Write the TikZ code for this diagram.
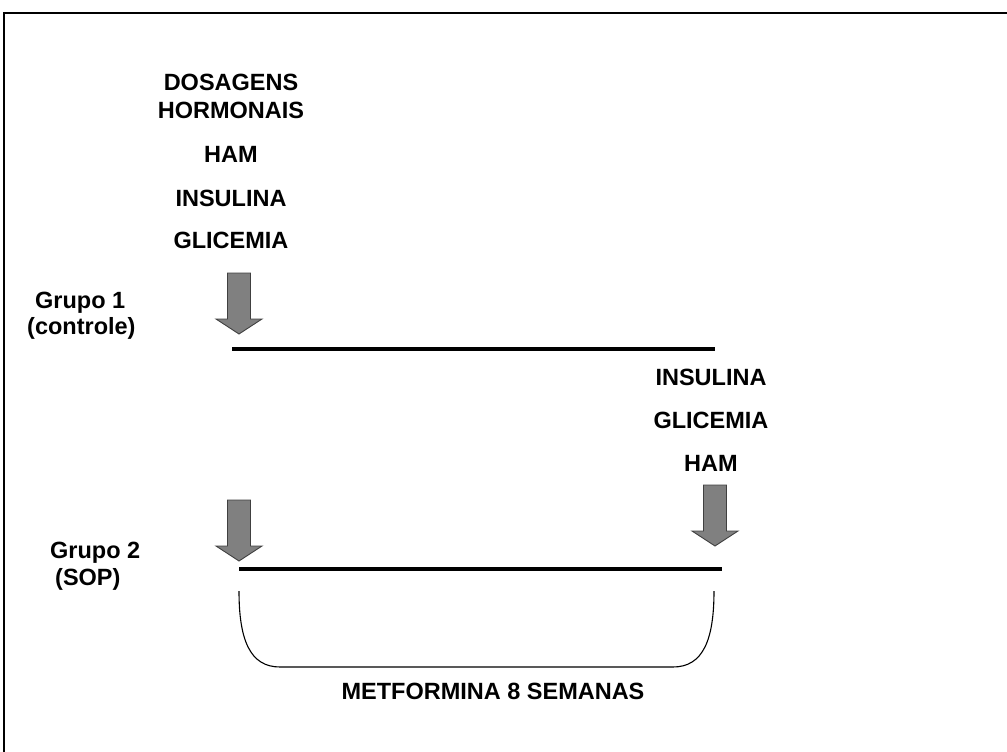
\documentclass[tikz,border=0pt]{standalone}
\usepackage{fontspec}
\setmainfont{Liberation Sans}
\begin{document}
\begin{tikzpicture}[x=1pt,y=-1pt,
  lbl/.style={font=\bfseries\fontsize{23.5}{28}\selectfont, inner sep=0pt, anchor=base},
  lblw/.style={lbl, anchor=base west},
  timeline/.style={line width=4pt},
  brace/.style={line width=1.1pt},
  frame/.style={line width=1.6pt},
  bigdown/.pic={\draw[fill=black!50, draw=black!75, line width=0.9pt]
      (-11.5,0) -- (-11.5,46) -- (-23,46) -- (0,61) -- (23,46) -- (11.5,46) -- (11.5,0) -- cycle;
      \coordinate (-tip) at (0,61);}
]
\useasboundingbox (0,0) rectangle (1007,752);
\draw[frame] (4,1000) -- (4,13) -- (1020,13);

% left texts
\node[lbl] (dos) at (231,90) {DOSAGENS};
\node[lbl] (hor) at (231,118.5) {HORMONAIS};
\node[lbl] (ham1) at (231,162.5) {HAM};
\node[lbl] (ins1) at (231,206) {INSULINA};
\node[lbl] (gli1) at (231,248.5) {GLICEMIA};

% groups
\node[lblw] (g1) at (35,308) {Grupo 1};
\node[lblw] (g1b) at (27,334) {(controle)};
\node[lblw] (g2) at (50,558) {Grupo 2};
\node[lblw] (g2b) at (55,585) {(SOP)};

% arrows
\pic (a1) at (239,273) {bigdown};
\pic (a2) at (239,500) {bigdown};
\pic (a3) at (715,485) {bigdown};

% timelines
\coordinate (l1a) at (232,349);
\coordinate (l1b) at (715,349);
\draw[timeline] (l1a) -- (l1b);
\coordinate (l2a) at (239,569);
\coordinate (l2b) at (722,569);
\draw[timeline] (l2a) -- (l2b);

% right texts
\node[lbl] (ins2) at (711,385.5) {INSULINA};
\node[lbl] (gli2) at (711,428.5) {GLICEMIA};
\node[lbl] (ham2) at (711,471.5) {HAM};

% brace
\coordinate (b1) at (239,591);
\coordinate (b2) at (714,591);
\draw[brace] (b1) .. controls (239,640) and (250,667) .. (280,667) -- (673,667)
   .. controls (703,667) and (714,640) .. (b2);
\node[lbl] (met) at (493,699) {METFORMINA 8 SEMANAS};
\end{tikzpicture}
\end{document}
